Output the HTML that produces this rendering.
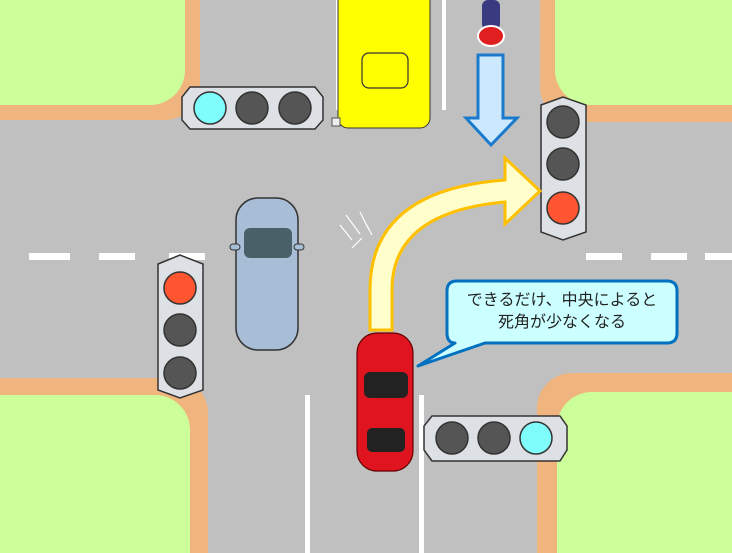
<!DOCTYPE html>
<html><head><meta charset="utf-8"><style>
html,body{margin:0;padding:0;background:#c0c0c0;width:732px;height:553px;overflow:hidden}
svg{display:block}
</style></head><body>
<svg width="732" height="553" viewBox="0 0 732 553" xmlns="http://www.w3.org/2000/svg">
<rect width="732" height="553" fill="#c0c0c0"/>
<!-- corners -->
<path d="M0 0H200V85A35 35 0 0 1 165 120H0Z" fill="#f0b47e"/>
<path d="M0 0H185V70A35 35 0 0 1 150 105H0Z" fill="#ccff99"/>
<path d="M540 0H732V122H575A35 35 0 0 1 540 87Z" fill="#f0b47e"/>
<path d="M555 0H732V105H590A35 35 0 0 1 555 70Z" fill="#ccff99"/>
<path d="M0 378H173A35 35 0 0 1 208 413V553H0Z" fill="#f0b47e"/>
<path d="M0 395H155A35 35 0 0 1 190 430V553H0Z" fill="#ccff99"/>
<path d="M572 373H732V553H537V408A35 35 0 0 1 572 373Z" fill="#f0b47e"/>
<path d="M592 392H732V553H557V427A35 35 0 0 1 592 392Z" fill="#ccff99"/>
<!-- lane markings -->
<g fill="#fff">
<rect x="29" y="253" width="41" height="7"/><rect x="99" y="253" width="36" height="7"/><rect x="169" y="253" width="36" height="7"/>
<rect x="586" y="253" width="36" height="7"/><rect x="651" y="253" width="36" height="7"/><rect x="705" y="253" width="27" height="7"/>
<rect x="336" y="0" width="4" height="110"/><rect x="442" y="0" width="4" height="110"/>
<rect x="305" y="395" width="5" height="158"/><rect x="419" y="395" width="5" height="158"/>
</g>
<!-- bus -->
<rect x="338" y="-10" width="92" height="138" rx="10" fill="#ffff00" stroke="#333" stroke-width="1"/>
<rect x="362" y="53" width="46" height="35" rx="7" fill="none" stroke="#333" stroke-width="1.2"/>
<rect x="332" y="118" width="8" height="8" fill="#eee" stroke="#555"/>
<!-- motorbike -->
<rect x="482" y="0" width="18" height="30" rx="6" fill="#3a3a80"/>
<ellipse cx="491" cy="36" rx="13" ry="10" fill="#e02020" stroke="#fff" stroke-width="2"/>
<!-- blue arrow -->
<path d="M478 55H503V118H517L491 145L466 118H478Z" fill="#cce8ff" stroke="#1a7acc" stroke-width="3" stroke-linejoin="miter"/>
<!-- traffic lights -->
<g stroke="#333" stroke-width="1.5">
<path d="M190 87H315L323 97V120L315 129H190L182 120V97Z" fill="#dde0e4"/>
<circle cx="210" cy="108" r="16" fill="#7ffcfc"/><circle cx="252" cy="108" r="16" fill="#555"/><circle cx="295" cy="108" r="16" fill="#555"/>
<path d="M541 105L563 97L586 105V232L563 240L541 232Z" fill="#dde0e4"/>
<circle cx="563" cy="122" r="16" fill="#555"/><circle cx="563" cy="164" r="16" fill="#555"/><circle cx="563" cy="208" r="16" fill="#ff5530"/>
<path d="M158 264L180 255L203 264V390L180 398L158 390Z" fill="#dde0e4"/>
<circle cx="180" cy="288" r="16" fill="#ff5530"/><circle cx="180" cy="330" r="16" fill="#555"/><circle cx="180" cy="373" r="16" fill="#555"/>
<path d="M432 416H560L567 426V450L560 461H432L424 450V426Z" fill="#dde0e4"/>
<circle cx="452" cy="438" r="16" fill="#555"/><circle cx="494" cy="438" r="16" fill="#555"/><circle cx="536" cy="438" r="16" fill="#7ffcfc"/>
</g>
<!-- gray car -->
<rect x="236" y="198" width="62" height="152" rx="22" fill="#a8bdd6" stroke="#333" stroke-width="1.5"/>
<rect x="244" y="228" width="48" height="30" rx="6" fill="#4a6068"/>
<rect x="230" y="244" width="10" height="6" rx="3" fill="#a8bdd6" stroke="#333"/>
<rect x="294" y="244" width="10" height="6" rx="3" fill="#a8bdd6" stroke="#333"/>
<!-- yellow curved arrow -->
<path d="M370 330V290Q370 190 505 180V158L540 191L505 224V202Q392 212 392 290V330Z" fill="#ffffcc" stroke="#ffc000" stroke-width="3" stroke-linejoin="miter"/>
<!-- squeal marks -->
<g stroke="#fff" stroke-width="1.2" fill="none">
<path d="M340 225L352 240M346 215L360 234M360 212L368 228M352 248L362 238M364 220L372 235"/>
</g>
<!-- red car -->
<rect x="357" y="333" width="56" height="138" rx="20" fill="#e0141e" stroke="#600" stroke-width="1.2"/>
<rect x="364" y="372" width="44" height="26" rx="6" fill="#222"/>
<rect x="367" y="428" width="38" height="24" rx="5" fill="#222"/>
<!-- callout -->
<path d="M457 281H667Q677 281 677 291V333Q677 343 667 343H485L418 366L455 343Q447 343 447 333V291Q447 281 457 281Z" fill="#ccffff" stroke="#0070c0" stroke-width="3" stroke-linejoin="round"/>
<text x="562" y="305" text-anchor="middle" font-family="'Liberation Sans','Noto Sans CJK JP',sans-serif" font-size="16" fill="#222">できるだけ、中央によると</text>
<text x="562" y="327" text-anchor="middle" font-family="'Liberation Sans','Noto Sans CJK JP',sans-serif" font-size="16" fill="#222">死角が少なくなる</text>
</svg>
</body></html>
